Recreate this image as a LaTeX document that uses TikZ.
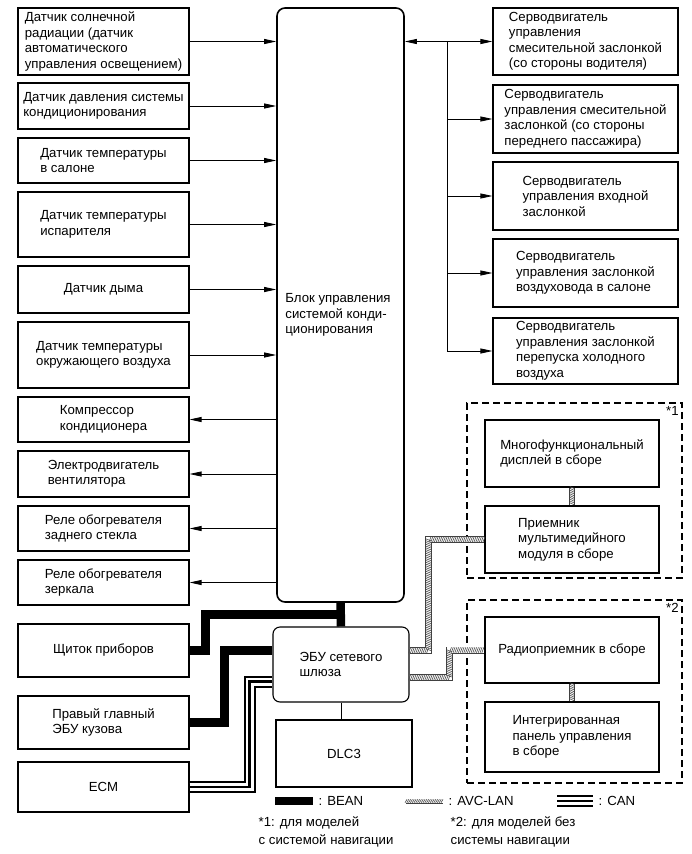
\documentclass[tikz,border=0pt]{standalone}
\usepackage{fontspec}
\setmainfont{Liberation Sans}
\usetikzlibrary{arrows.meta, positioning, calc, decorations.markings}

\begin{document}
\begin{tikzpicture}[
    x=1pt, y=-1pt,
    >={Triangle[length=12pt,width=5pt]},
    font=\fontsize{13.2}{15.5}\selectfont,
    every path/.style={line width=0.8pt},
    box/.style={draw, line width=1.1pt, align=left, inner sep=2pt},
    lbox/.style={box, minimum width=171pt},
    rbox/.style={box, minimum width=185pt},
    gbox/.style={box, minimum width=174pt},
    group/.style={draw, line width=1.1pt, dash pattern=on 7pt off 4pt, minimum width=215pt},
    bean/.style={draw, line width=8.5pt},
    can/.style={preaction={draw, line width=12pt}, preaction={draw=white, line width=8pt}, draw, line width=2.5pt},
    avc/.style={
        preaction={draw=black!75, line width=#1pt},
        preaction={draw=white, line width=#1pt-1.6pt},
        postaction={decorate, decoration={markings,
            mark=between positions 0 and 1 step 1.8pt with {\draw[black!70, line width=0.6pt] (-1pt,{-(#1pt-1.6pt)/2}) -- (1pt,{(#1pt-1.6pt)/2});}}}},
    avc/.default=7
]
    \useasboundingbox (0,0) rectangle (691,854);

    % control unit and gateway
    \node[draw, line width=1.6pt, rounded corners=8pt, minimum width=127pt, minimum height=594pt] (acu) at (340.5,305) {};
    \node[align=left] (acutext) at (338,315) {Блок управления\\системой конди-\\ционирования};
    \node[box, rounded corners=7pt, minimum width=136pt, minimum height=75pt] (gw) at (341,664.5) {ЭБУ сетевого\\шлюза};
    \node[box, minimum width=136pt, minimum height=67pt] (dlc) at (344,753.5) {DLC3};

    % left column
    \node[lbox, minimum height=67pt] (L1) at (103.5,41.5) {Датчик солнечной\\радиации (датчик\\автоматического\\управления освещением)};
    \node[lbox, minimum height=46pt] (L2) at (103.5,106) {Датчик давления системы\\кондиционирования};
    \node[lbox, minimum height=45pt] (L3) at (103.5,160.5) {Датчик температуры\\в салоне};
    \node[lbox, minimum height=65pt] (L4) at (103.5,224.5) {Датчик температуры\\испарителя};
    \node[lbox, minimum height=47pt] (L5) at (103.5,289.5) {Датчик дыма};
    \node[lbox, minimum height=66pt] (L6) at (103.5,355) {Датчик температуры\\окружающего воздуха};
    \node[lbox, minimum height=45pt] (L7) at (103.5,419.5) {Компрессор\\кондиционера};
    \node[lbox, minimum height=46pt] (L8) at (103.5,474) {Электродвигатель\\вентилятора};
    \node[lbox, minimum height=45pt] (L9) at (103.5,528.5) {Реле обогревателя\\заднего стекла};
    \node[lbox, minimum height=45pt] (L10) at (103.5,582.5) {Реле обогревателя\\зеркала};
    \node[lbox, minimum height=53pt] (L11) at (103.5,650.5) {Щиток приборов};
    \node[lbox, minimum height=53pt] (L12) at (103.5,722.5) {Правый главный\\ЭБУ кузова};
    \node[lbox, minimum height=50pt] (L13) at (103.5,787) {ECM};

    % right column
    \node[rbox, minimum height=67pt] (R1) at (585.5,41.5) {Серводвигатель\\управления\\смесительной заслонкой\\(со стороны водителя)};
    \node[rbox, minimum height=68pt] (R2) at (585.5,119) {Серводвигатель\\управления смесительной\\заслонкой (со стороны\\переднего пассажира)};
    \node[rbox, minimum height=68pt] (R3) at (585.5,196) {Серводвигатель\\управления входной\\заслонкой};
    \node[rbox, minimum height=68pt] (R4) at (585.5,273) {Серводвигатель\\управления заслонкой\\воздуховода в салоне};
    \node[rbox, minimum height=66pt] (R5) at (585.5,351) {Серводвигатель\\управления заслонкой\\перепуска холодного\\воздуха};
    \coordinate (bus) at (447,0);

    % audio / navigation groups
    \node[group, minimum height=175pt] (grp1) at (574.5,490.5) {};
    \node[group, minimum height=183pt] (grp2) at (574.5,691.5) {};
    \node[anchor=north east, inner sep=3.5pt] (star1) at (grp1.north east) {*1};
    \node[anchor=north east, inner sep=3.5pt] (star2) at (grp2.north east) {*2};
    \node[gbox, minimum height=67pt] (G1a) at (572,453.5) {Многофункциональный\\дисплей в сборе};
    \node[gbox, minimum height=67pt] (G1b) at (572,539.5) {Приемник\\мультимедийного\\модуля в сборе};
    \node[gbox, minimum height=66pt] (G2a) at (572,650) {Радиоприемник в сборе};
    \node[gbox, minimum height=70pt] (G2b) at (572,737) {Интегрированная\\панель управления\\в сборе};

    % sensors in, actuators out
    \foreach \s in {L1,L2,L3,L4,L5,L6}
        \draw[->] (\s.east) -- (\s.east -| acu.west);
    \foreach \s in {L7,L8,L9,L10}
        \draw[->] (\s.east -| acu.west) -- (\s.east);
    \draw[<->] (acu.east |- R1.west) -- (R1.west);
    \draw[->] (R1.west -| bus) |- (R5.west);
    \foreach \r in {R2,R3,R4}
        \draw[->] (bus |- \r.west) -- (\r.west);

    % BEAN
    \draw[bean] (acu.south) -- (gw.north);
    \draw[bean] (L11.east) -- ++(16,0) |- ($(acu.south)!.5!(gw.north)$);
    \draw[bean] (L12.east) -- ++(35,0) |- ([yshift=14pt]gw.west);
    % CAN
    \draw[can] (L13.east) -- ++(60,0) |- ([yshift=-17pt]gw.west);
    % AVC-LAN
    \path[avc] ([yshift=14pt]gw.east) -- ++(19,0) |- (G1b.west);
    \path[avc] ([yshift=-13pt]gw.east) -- ++(40,0) |- (G2a.west);
    \path[avc=6] (G1a) -- (G1b);
    \path[avc=6] (G2a) -- (G2b);
    \draw (gw.south) -- (gw.south |- dlc.north);

    % legend
    \node[anchor=west] (legbean) at (315,801) {: BEAN};
    \node[anchor=west] (legavc) at (445,801) {: AVC-LAN};
    \node[anchor=west] (legcan) at (595,801) {: CAN};
    \draw[bean] ([xshift=-40pt]legbean.west) -- ([xshift=-2pt]legbean.west);
    \path[avc=5] ([xshift=-39pt]legavc.west) -- ([xshift=-2pt]legavc.west);
    \draw[can] ([xshift=-38pt]legcan.west) -- ([xshift=-2pt]legcan.west);
    \node[anchor=west, align=left] (note1) at (255,832) {*1: для моделей\\[3pt]с системой навигации};
    \node[anchor=west, align=left] (note2) at (447,832) {*2: для моделей без\\[3pt]системы навигации};
\end{tikzpicture}
\end{document}
